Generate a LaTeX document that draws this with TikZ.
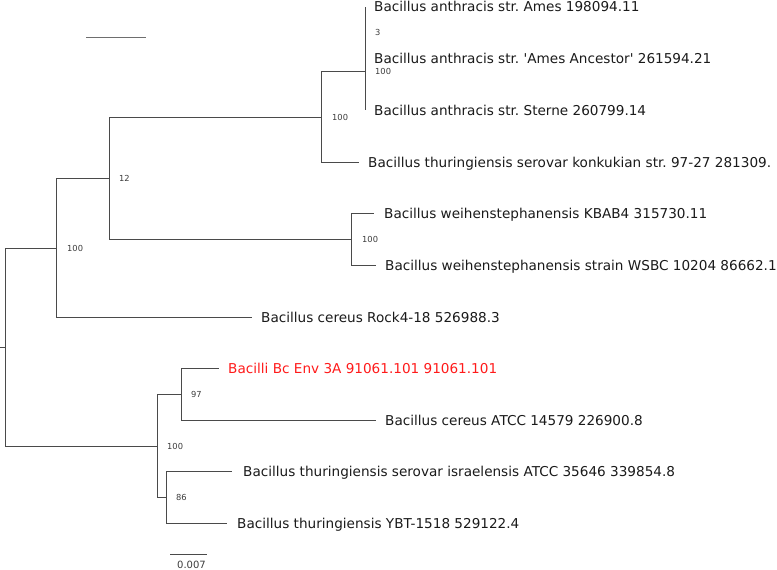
\documentclass[tikz,border=0pt]{standalone}
\usepackage{fontspec}
\setmainfont{DejaVu Sans}
\frenchspacing
\definecolor{edgegray}{HTML}{4A4A4A}
\definecolor{txt}{HTML}{1A1A1A}
\definecolor{hl}{HTML}{FF1A1A}
\begin{document}
\begin{tikzpicture}[x=1pt,y=-1pt,
  edge/.style={draw=edgegray,line width=0.95pt},
  leaf/.style={anchor=base west,inner sep=0pt,text=txt,font=\fontsize{13.6}{16}\selectfont},
  boot/.style={anchor=west,inner sep=0pt,text=txt!85,font=\fontsize{8.3}{9}\selectfont},
  scalelbl/.style={inner sep=0pt,text=txt!85,font=\fontsize{10}{12}\selectfont}]
\useasboundingbox (0,0) rectangle (777,570);
% internal nodes
\coordinate (stub) at (0,347);
\coordinate (root) at (5,347);
\coordinate (A) at (56,248);
\coordinate (B) at (109,178);
\coordinate (C) at (321,117);
\coordinate (D) at (365,71.4);
\coordinate (D2) at (365,32.75);
\coordinate (E) at (351,239);
\coordinate (F) at (157,446);
\coordinate (G) at (181,394);
\coordinate (H) at (166,497);
% tips
\coordinate (tAmes) at (365,7);
\coordinate (tAnc) at (365,58.5);
\coordinate (tSte) at (365,110);
\coordinate (tKon) at (359,162);
\coordinate (tKB) at (374,213);
\coordinate (tWS) at (376,265);
\coordinate (tRock) at (252,317);
\coordinate (tBc) at (219,368);
\coordinate (tATCC) at (376,420);
\coordinate (tIsr) at (232,471);
\coordinate (tYBT) at (227,523);
% edges
\draw[edge] (stub) -- (root);
\draw[edge] (root) |- (A);
\draw[edge] (root) |- (F);
\draw[edge] (A) |- (B);
\draw[edge] (A) |- (tRock);
\draw[edge] (B) |- (C);
\draw[edge] (B) |- (E);
\draw[edge] (C) |- (D);
\draw[edge] (C) |- (tKon);
\draw[edge] (D) -- (D2);
\draw[edge] (D) -- (tSte);
\draw[edge] (D2) -- (tAmes);
\draw[edge] (D2) -- (tAnc);
\draw[edge] (E) |- (tKB);
\draw[edge] (E) |- (tWS);
\draw[edge] (F) |- (G);
\draw[edge] (F) |- (H);
\draw[edge] (G) |- (tBc);
\draw[edge] (G) |- (tATCC);
\draw[edge] (H) |- (tIsr);
\draw[edge] (H) |- (tYBT);
% leaf labels
\node[leaf] (lAmes) at ([shift={(9,5)}]tAmes) {Bacillus anthracis str. Ames 198094.11};
\node[leaf] (lAnc) at ([shift={(9,5)}]tAnc) {Bacillus anthracis str. \textquotesingle Ames Ancestor\textquotesingle\ 261594.21};
\node[leaf] (lSte) at ([shift={(9,5)}]tSte) {Bacillus anthracis str. Sterne 260799.14};
\node[leaf] (lKon) at ([shift={(9,5)}]tKon) {Bacillus thuringiensis serovar konkukian str. 97-27 281309.};
\node[leaf] (lKB) at ([shift={(10,5)}]tKB) {Bacillus weihenstephanensis KBAB4 315730.11};
\node[leaf] (lWS) at ([shift={(9,5)}]tWS) {Bacillus weihenstephanensis strain WSBC 10204 86662.1};
\node[leaf] (lRock) at ([shift={(9,5)}]tRock) {Bacillus cereus Rock4-18 526988.3};
\node[leaf,text=hl] (lBc) at ([shift={(9,5)}]tBc) {Bacilli Bc Env 3A 91061.101 91061.101};
\node[leaf] (lATCC) at ([shift={(9,5)}]tATCC) {Bacillus cereus ATCC 14579 226900.8};
\node[leaf] (lIsr) at ([shift={(11,5)}]tIsr) {Bacillus thuringiensis serovar israelensis ATCC 35646 339854.8};
\node[leaf] (lYBT) at ([shift={(10,5)}]tYBT) {Bacillus thuringiensis YBT-1518 529122.4};
% bootstrap labels
\node[boot] (bD2) at ([shift={(10,0)}]D2) {3};
\node[boot] (bD) at ([shift={(10,0)}]D) {100};
\node[boot] (bC) at ([shift={(11,0)}]C) {100};
\node[boot] (bB) at ([shift={(10,0)}]B) {12};
\node[boot] (bA) at ([shift={(11,0)}]A) {100};
\node[boot] (bE) at ([shift={(11,0)}]E) {100};
\node[boot] (bF) at ([shift={(10,0)}]F) {100};
\node[boot] (bG) at ([shift={(10,0)}]G) {97};
\node[boot] (bH) at ([shift={(10,0)}]H) {86};
% top-left line
\coordinate (tl1) at (86,37);
\coordinate (tl2) at (146,37);
\draw[draw=edgegray!80,line width=0.9pt] (tl1) -- (tl2);
% scale bar
\coordinate (sb1) at (170,554);
\coordinate (sb2) at (207,554);
\draw[edge] (sb1) -- (sb2);
\node[scalelbl] (sbl) at (191.5,565) {0.007};
\end{tikzpicture}
\end{document}
